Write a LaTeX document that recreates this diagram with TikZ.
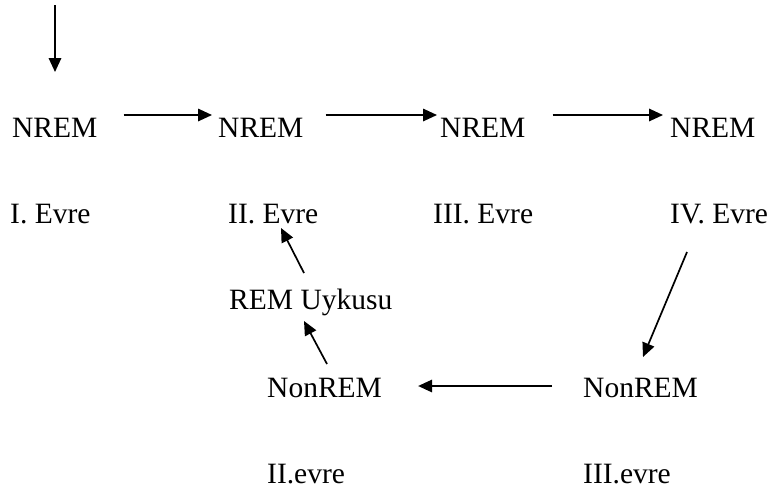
\documentclass[tikz,border=0pt]{standalone}
\usepackage{fontspec}
\setmainfont{Liberation Serif}
\usetikzlibrary{arrows.meta,calc}
\begin{document}
\begin{tikzpicture}[x=1pt,y=-1pt,
  lbl/.style={anchor=base west,inner sep=0pt,font=\fontsize{29.5}{34}\selectfont},
  arr/.style={line width=1.7pt,-{Triangle[length=14pt,width=12.5pt]}}]
\useasboundingbox (0,0) rectangle (773,491);
% first row: NREM stages
\node[lbl] (n1) at (12,137) {NREM};
\node[lbl] (n2) at (218,137) {NREM};
\node[lbl] (n3) at (440,137) {NREM};
\node[lbl] (n4) at (670,137) {NREM};
% stage names
\node[lbl] (e1) at (10,223) {I. Evre};
\node[lbl] (e2) at (228,223) {II. Evre};
\node[lbl] (e3) at (433,223) {III. Evre};
\node[lbl] (e4) at (670,223) {IV. Evre};
% return cycle
\node[lbl] (rem) at (229,309) {REM Uykusu};
\node[lbl] (nr1) at (267,397) {NonREM};
\node[lbl] (nr2) at (583,397) {NonREM};
\node[lbl] (v1) at (267,483) {II.evre};
\node[lbl] (v2) at (583,483) {III.evre};
% entry arrow
\coordinate (start) at (55,5);
\draw[arr] (start) -- ($(n1.base west)+(43,-65)$);
% forward arrows
\draw[arr] ($(n1.base east)+(26,-22)$) -- ($(n2.base west)+(-6,-22)$);
\draw[arr] ($(n2.base east)+(22,-22)$) -- ($(n3.base west)+(-3,-22)$);
\draw[arr] ($(n3.base east)+(27,-22)$) -- ($(n4.base west)+(-7,-22)$);
% cycle arrows
\draw[arr] ($(e4.base west)+(17,29)$) -- ($(nr2.base west)+(60,-40)$);
\draw[arr] ($(nr2.base west)+(-31,-11)$) -- ($(nr1.base east)+(36,-11)$);
\draw[arr] ($(nr1.base west)+(60,-33)$) -- ($(rem.base west)+(75,12)$);
\draw[arr] ($(rem.base west)+(75,-36)$) -- ($(e2.base west)+(53,5)$);
\end{tikzpicture}
\end{document}
